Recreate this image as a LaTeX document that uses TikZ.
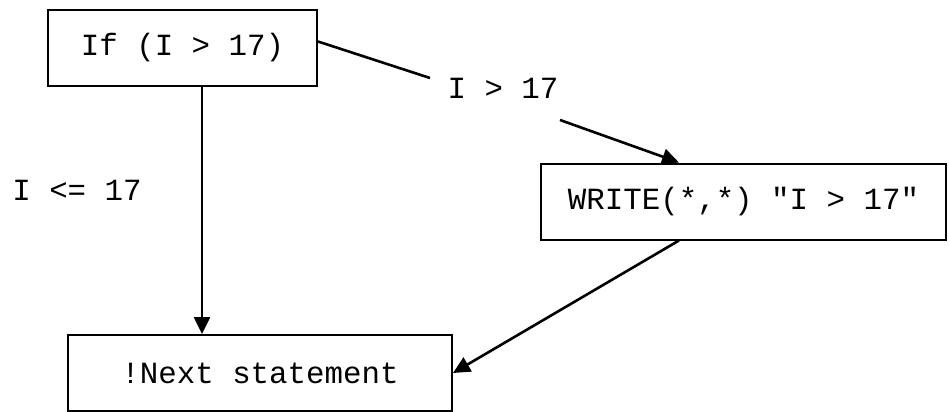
\documentclass[tikz,border=0pt]{standalone}
\usepackage{fontspec}
\setmonofont{Liberation Mono}
\usetikzlibrary{positioning,arrows.meta}

\begin{document}
\begin{tikzpicture}[x=0.5pt, y=-0.5pt, font=\ttfamily\fontsize{15.4}{18}\selectfont]
	\tikzstyle{block} = [rectangle, draw, fill=white, text centered, minimum height=38pt, line width=1pt]
	\tikzstyle{line} = [draw, -{Triangle[length=8.5pt,width=8pt]}, line width=1.3pt]
	\useasboundingbox (0,0) rectangle (949,412);

	    % Place nodes
	    \node [block, minimum width=134.5pt] (if) at (182.5,47.5) {If (I > 17)};
	    \node [block, minimum width=202.5pt] (write) at (743.5,201.5) {WRITE(*,*) "I > 17"};
	    \node [block, minimum width=192pt] (next) at (260,373) {!Next statement};
	    \node (gt) at (503,88) {I > 17};
	    \node (le) at (77,190) {I <= 17};
	    \coordinate (gtin) at (430,78);
	    \coordinate (gtout) at (560,120);

	    % Draw edges
	    \draw [line width=1.3pt] ([yshift=3pt]if.east) -- (gtin);
	    \path [line] (gtout) -- ([xshift=69.5pt]write.north west);
	    \path [line] ([xshift=9.75pt]if.south) -- ([xshift=9.75pt]if.south |- next.north);
	    \path [line] ([xshift=69.5pt]write.south west) -- (next.east);

\end{tikzpicture}
\end{document}
